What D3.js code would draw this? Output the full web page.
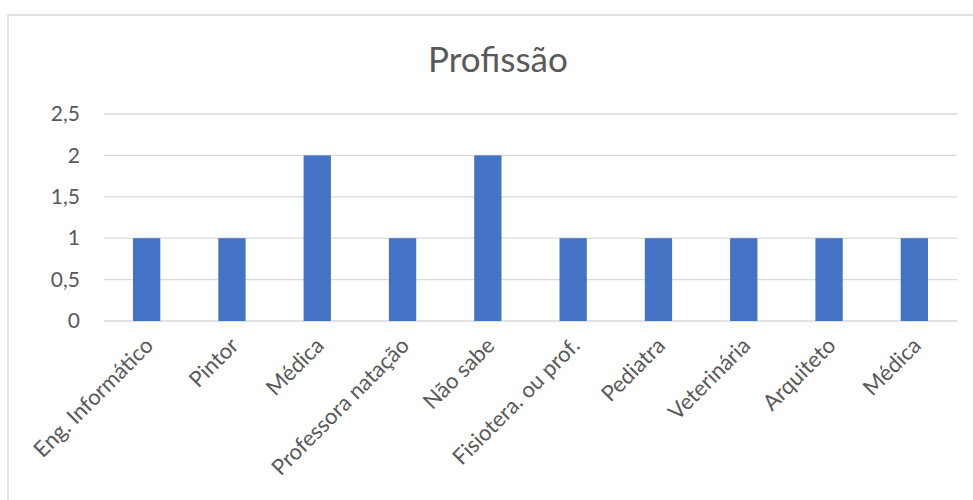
<!DOCTYPE html>
<html>
<head>
<meta charset="utf-8">
<script src="https://cdn.jsdelivr.net/npm/d3@7/dist/d3.min.js"></script>
<style>
body { margin:0; background:#fff; }
text { font-family: Lato, "Open Sans", sans-serif; fill:#595959; }
</style>
</head>
<body>
<svg id="chart" width="973" height="500"></svg>
<script>
var categories=["Eng. Informático","Pintor","Médica","Professora natação","Não sabe","Fisiotera. ou prof.","Pediatra","Veterinária","Arquiteto","Médica"];
var values=[1,1,2,1,2,1,1,1,1,1];
var yTicks=[0,0.5,1,1.5,2,2.5];
var chartTitle="Profissão";

var svg=d3.select("#chart");

// chart area border
svg.append("rect")
	.attr("x",8).attr("y",15)
	.attr("width",990).attr("height",520)
	.attr("fill","none")
	.attr("stroke","#d9d9d9")
	.attr("stroke-width",1.5);

var x=d3.scaleBand()
	.domain(d3.range(categories.length))
	.range([104,957])
	.paddingInner(0.68)
	.paddingOuter(0.34);

var y=d3.scaleLinear().domain([0,2.5]).range([321,114]);

// gridlines
svg.append("g").selectAll("line")
	.data(yTicks)
	.enter()
	.append("line")
	.attr("x1",104).attr("x2",957)
	.attr("y1",function(d){ return y(d); })
	.attr("y2",function(d){ return y(d); })
	.attr("stroke","#d9d9d9")
	.attr("stroke-width",1.3);

// y axis labels
var fmt=function(d){ return String(d).replace(".",","); };
var yAxis=d3.axisLeft(y).tickValues(yTicks).tickFormat(fmt).tickSize(0).tickPadding(24);
var yg=svg.append("g").attr("transform","translate(104,0)").call(yAxis);
yg.select(".domain").remove();
yg.selectAll("text").style("font-size","21px").attr("fill","#595959").style("font-family","Lato, sans-serif");

// bars
svg.append("g").selectAll("rect")
	.data(values)
	.enter()
	.append("rect")
	.attr("x",function(d,i){ return x(i); })
	.attr("y",function(d){ return y(d); })
	.attr("width",x.bandwidth())
	.attr("height",function(d){ return y(0)-y(d); })
	.attr("fill","#4472c4");

// category labels
svg.append("g").selectAll("text")
	.data(categories)
	.enter()
	.append("text")
	.attr("transform",function(d,i){
		var cx=x(i)+x.bandwidth()/2;
		return "translate("+(cx+8)+",347) rotate(-45)";
		})
	.attr("text-anchor","end")
	.style("font-size","22px")
	.text(function(d){ return d; });

// title
svg.append("text")
	.attr("x",498).attr("y",72)
	.attr("text-anchor","middle")
	.style("font-size","35px")
	.text(chartTitle);
</script>
</body>
</html>
